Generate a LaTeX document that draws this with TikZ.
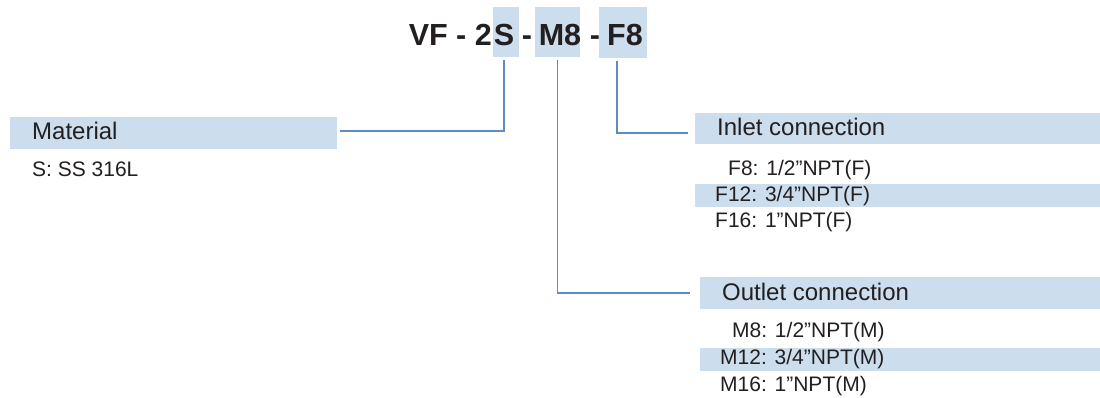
\documentclass[tikz,border=0pt]{standalone}
\usepackage{fontspec}
\setmainfont{Liberation Sans}
\definecolor{boxblue}{HTML}{CCDDED}
\definecolor{lineblue}{HTML}{5B8CC5}
\definecolor{txt}{HTML}{231F20}
\begin{document}
\begin{tikzpicture}[x=1pt,y=-1pt,
  band/.style={fill=boxblue, draw=none, inner sep=0, outer sep=0},
  conn/.style={draw=lineblue, line width=1.4pt},
  ttl/.style={font=\bfseries\fontsize{30.5}{36}\selectfont, text=txt, inner sep=0, anchor=base},
  head/.style={font=\fontsize{24}{28}\selectfont, text=txt, inner sep=0, anchor=base west},
  item/.style={font=\fontsize{21}{25}\selectfont, text=txt, inner sep=0, anchor=base west}]
\useasboundingbox (0,0) rectangle (1100,398);

% highlight boxes in the code
\node[band, minimum width=26, minimum height=50] (bS) at (506,32) {};
\node[band, minimum width=45, minimum height=50] (bM) at (557.5,32) {};
\node[band, minimum width=48, minimum height=51] (bF) at (623,32.5) {};

% code text
\node[ttl, anchor=base east] (tVF) at (492,46) {VF - 2};
\node[ttl] (tS) at (504,46) {S};
\node[ttl] (td1) at (527,46) {-};
\node[ttl] (tM) at (560,46) {M8};
\node[ttl] (td2) at (595,46) {-};
\node[ttl] (tF) at (625,46) {F8};

% header bands
\node[band, minimum width=327, minimum height=32] (mat) at (173.5,133) {};
\node[band, minimum width=405, minimum height=31] (inl) at (897.5,128.5) {};
\node[band, minimum width=400, minimum height=32] (outl) at (900,293) {};
\node[band, minimum width=405, minimum height=23] (f12b) at (897.5,195.5) {};
\node[band, minimum width=400, minimum height=23] (m12b) at (900,359.5) {};

% texts
\node[head] (matT) at (32,140) {Material};
\node[item] (s1) at (32,177) {S: SS 316L};
\node[head] (inT) at (717,136) {Inlet connection};
\node[item] (f8) at (728,176) {F8: 1/2”NPT(F)};
\node[item] (f12) at (715,202) {F12: 3/4”NPT(F)};
\node[item] (f16) at (715,227) {F16: 1”NPT(F)};
\node[head] (outT) at (722,300) {Outlet connection};
\node[item] (m8) at (732,337) {M8: 1/2”NPT(M)};
\node[item] (m12) at (720,364) {M12: 3/4”NPT(M)};
\node[item] (m16) at (720,391) {M16: 1”NPT(M)};

% connectors
\draw[conn] ([xshift=-2pt,yshift=-3pt]bS.south) |- ([xshift=3pt,yshift=2pt]mat.east);
\draw[conn] ([yshift=-3pt]bM.south) |- ([xshift=-10pt]outl.west);
\draw[conn] ([xshift=-6pt,yshift=-3pt]bF.south) |- ([xshift=-7pt,yshift=-4.5pt]inl.west);
\end{tikzpicture}
\end{document}
